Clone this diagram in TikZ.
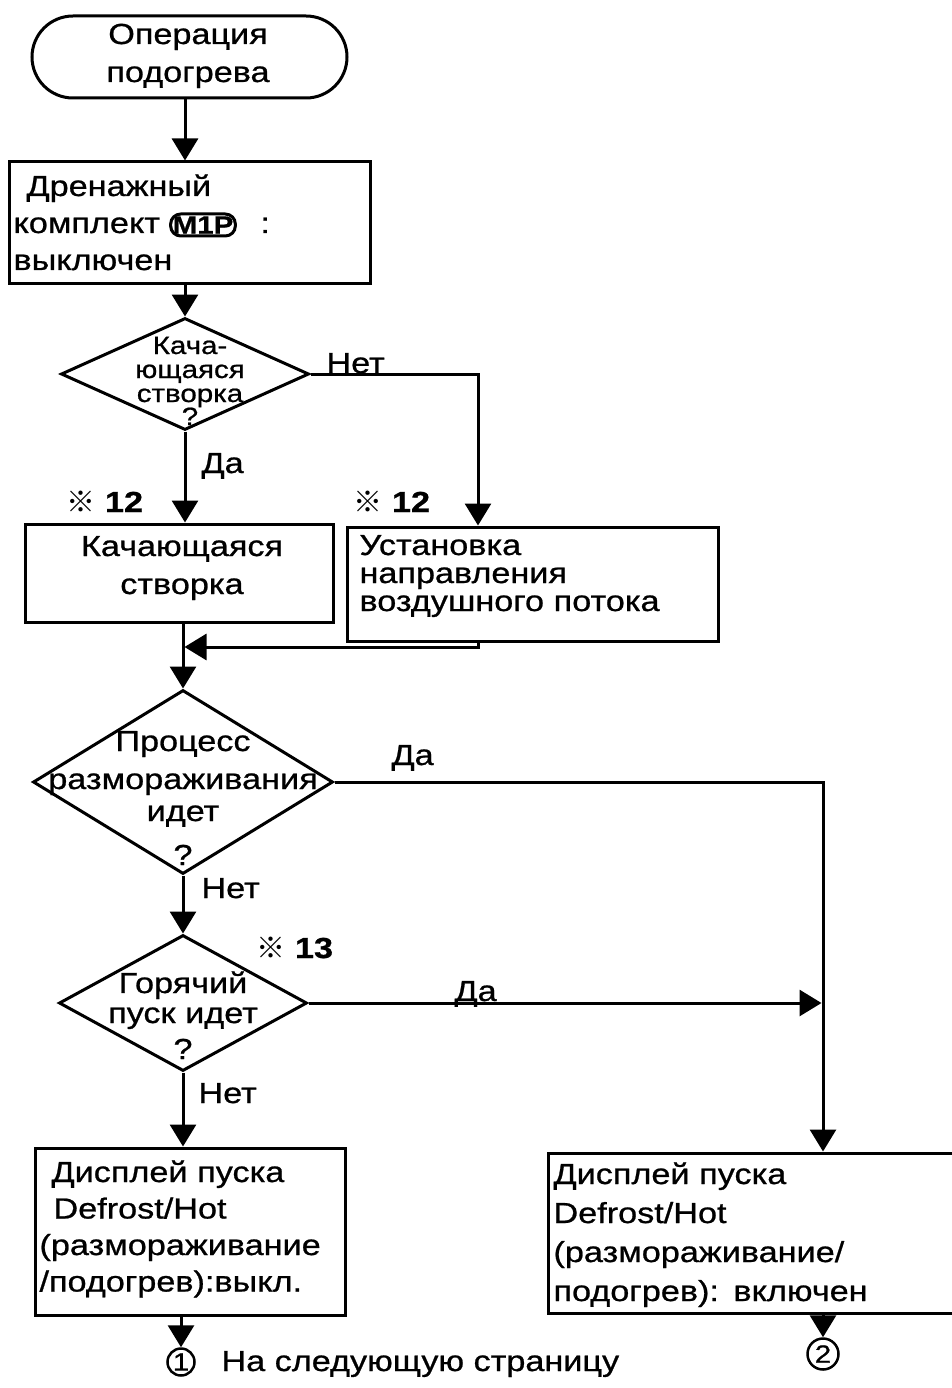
\documentclass[tikz,border=0pt]{standalone}
\usepackage{fontspec}
\setmainfont{Liberation Sans}[FakeStretch=1.18,FakeBold=0.8]
\newfontfamily\refmark{Noto Sans CJK JP}
\usetikzlibrary{shapes.geometric,arrows.meta}

\begin{document}
\lineskiplimit=-1000pt
\fontsize{29pt}{37pt}\selectfont
\begin{tikzpicture}[x=1pt,y=-1pt,line width=3pt,
  every node/.style={inner sep=0pt},
  arr/.style={-{Triangle[length=22pt,width=26pt]}},
  stepbox/.style={draw,rectangle},
  decision/.style={draw,diamond},
  txl/.style={anchor=base west,align=left,text width=#1},
  txc/.style={anchor=base,align=center,text width=#1},
  lbl/.style={anchor=base west},
  sz/.style={font=\fontsize{29pt}{#1}\selectfont},
  conn/.style={draw,circle,line width=2.5pt,font=\fontsize{25pt}{25pt}\selectfont},
  motor/.style={draw,rounded corners=10pt,line width=3pt,inner xsep=2pt,
    minimum height=22pt,font=\fontsize{25pt}{25pt}\selectfont\bfseries}
]
\useasboundingbox (0,0) rectangle (952,1388);

% ---- shapes ----
\node[stepbox,rounded corners=41pt,minimum width=315pt,minimum height=82pt] (start) at (189.5,57) {};
\node[stepbox,minimum width=361pt,minimum height=121pt] (drain) at (189.5,222.5) {};
\node[decision,minimum width=248pt,minimum height=112pt] (q1) at (185,374) {};
\node[stepbox,minimum width=308pt,minimum height=98pt] (swing) at (179,573) {};
\node[stepbox,minimum width=371pt,minimum height=114pt] (airflow) at (532.5,584) {};
\node[decision,minimum width=300pt,minimum height=184pt] (q2) at (183,782) {};
\node[decision,minimum width=248pt,minimum height=136pt] (q3) at (183,1003) {};
\node[stepbox,minimum width=310pt,minimum height=167pt] (offdisp) at (190,1231.5) {};
\node[stepbox,minimum width=420pt,minimum height=160pt] (ondisp) at (758,1233) {};
\node[conn,minimum size=27pt] (c1) at (181,1362) {1};
\node[conn,minimum size=31pt] (c2) at (823,1354) {2};

% ---- texts ----
\node[txc=300pt,sz=38pt] (t0) at (188,44) {Операция\\подогрева};
\node[txl=355pt] (t1) at (12,196) {\hspace*{13pt}Дренажный\\комплект\\выключен};
\node[motor] (m1p) at (203,225) {M1P};
\node[lbl] (colon) at (259,233) {:};
\node[txc=200pt,font=\fontsize{25pt}{24pt}\selectfont] (t2) at (190,354) {Кача-\\ющаяся\\створка\\[-1pt]?};
\node[lbl] (l1) at (325,373) {Нет};
\node[lbl] (l2) at (200,473) {Да};
\node[lbl,font=\bfseries] (r1) at (65,512) {{\refmark ※} 12};
\node[lbl,font=\bfseries] (r2) at (352,512) {{\refmark ※} 12};
\node[txc=300pt,sz=38pt] (t3) at (182,556) {Качающаяся\\створка};
\node[txl=360pt,sz=28pt] (t4) at (358,555) {Установка\\направления\\воздушного потока};
\node[txc=300pt,sz=32pt] (t5) at (183,751) {Процесс\\[6pt]размораживания\\идет\\[12pt]?};
\node[lbl] (l3) at (390,765) {Да};
\node[lbl] (l4) at (200,898) {Нет};
\node[lbl,font=\bfseries] (r3) at (255,958) {{\refmark ※} 13};
\node[txc=260pt,sz=30pt] (t6) at (183,993) {Горячий\\пуск идет\\[6pt]?};
\node[lbl] (l5) at (453,1001) {Да};
\node[lbl] (l6) at (197,1103) {Нет};
\node[txl=305pt,sz=36.5pt] (t7) at (38,1182) {\hspace*{12pt}Дисплей пуска\\\hspace*{14pt}Defrost/Hot\\(размораживание\\/подогрев):выкл.};
\node[txl=400pt,sz=39pt] (t8) at (552,1184) {Дисплей пуска\\Defrost/Hot\\(размораживание/\\подогрев): включен};
\node[lbl] (foot) at (220,1371) {На следующую страницу};

% ---- junction points ----
\coordinate (nx) at (478,647);
\coordinate (mg) at (183,647);
\coordinate (rx) at (823,785);

% ---- connectors ----
\draw[arr] (start.south -| q1.north) -- (drain.north -| q1.north);
\draw[arr] (drain.south -| q1.north) -- (q1.north);
\draw[arr] (q1.south) -- (q1.south |- swing.north);
\draw[arr] (q1.east) -| (nx |- airflow.north);
\draw (swing.south -| mg) -- (mg);
\draw[arr] (nx |- airflow.south) -- (nx) -- ([xshift=1.5pt]mg);
\draw[arr] (mg) -- (q2.north);
\draw[arr] (q2.east) -| (rx |- ondisp.north);
\draw[arr] (q2.south) -- (q3.north);
\draw[arr] (q3.east) -- ([xshift=-1.5pt]rx |- q3.east);
\draw[arr] (q3.south) -- (q3.south |- offdisp.north);
\draw[arr] (offdisp.south -| c1) -- (c1.north);
\draw[arr] (ondisp.south -| c2) -- (c2.north);
\end{tikzpicture}
\end{document}
